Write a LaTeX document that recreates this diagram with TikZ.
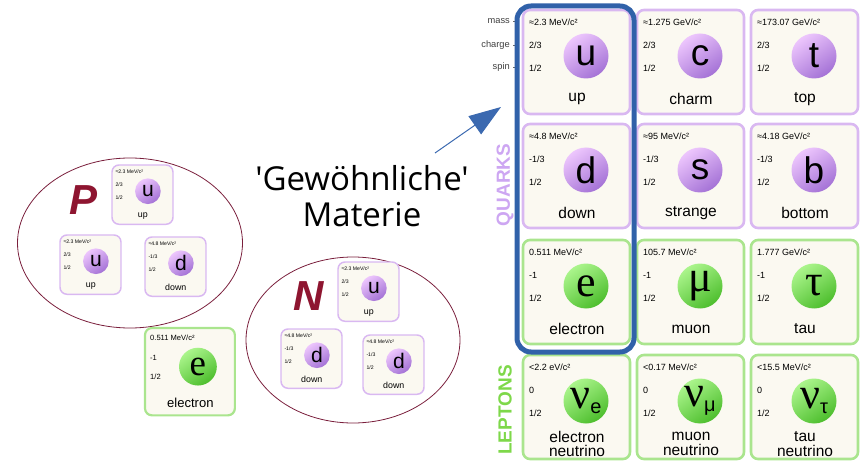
\documentclass[tikz,border=0pt]{standalone}
\usepackage{fontspec}
\setmainfont{Liberation Sans}
\newfontfamily\symfont{Liberation Serif}
\newfontfamily\handfont{Open Sans}
\usetikzlibrary{arrows.meta,shapes.geometric}

\definecolor{quarkline}{HTML}{D9B8F1}
\definecolor{leptonline}{HTML}{AAE58E}
\definecolor{quarktop}{HTML}{EDC6FD}
\definecolor{quarkbot}{HTML}{A472D6}
\definecolor{leptontop}{HTML}{ABF58C}
\definecolor{leptonbot}{HTML}{4DBE2D}
\definecolor{cardfill}{HTML}{FBF9F1}
\definecolor{genblue}{HTML}{3061A9}
\definecolor{arrowblue}{HTML}{3B69B0}
\definecolor{hadron}{HTML}{7A1F3C}
\definecolor{hadronletter}{HTML}{8E1530}
\definecolor{quarklabel}{HTML}{CDA6F2}
\definecolor{leptonlabel}{HTML}{7ED84A}

\tikzset{
  quarkcard/.style={draw=quarkline, fill=cardfill, rounded corners=7pt},
  leptoncard/.style={draw=leptonline, fill=cardfill, rounded corners=7pt},
  quarkball/.style={circle, minimum size=45pt, inner sep=0pt, top color=quarktop, bottom color=quarkbot, shading angle=35, font=\fontsize{37}{37}\selectfont},
  leptonball/.style={circle, minimum size=45pt, inner sep=0pt, top color=leptontop, bottom color=leptonbot, shading angle=35, font=\fontsize{44}{44}\selectfont\symfont},
  propnode/.style={anchor=west, inner sep=0pt, font=\fontsize{9}{9}\selectfont},
  namenode/.style={inner sep=0pt, align=center, font=\fontsize{15.5}{14.5}\selectfont},
  rowlabel/.style={anchor=east, inner sep=0pt, text=black!75, font=\fontsize{9.3}{9.3}\selectfont},
  hadronbox/.style={draw=hadron, line width=0.8pt, ellipse, inner sep=0pt},
  hadronname/.style={text=hadronletter, font=\bfseries\itshape\fontsize{42}{42}\selectfont},
}

% #1 name, #2 top left, #3 scale, #4 quark/lepton, #5 mass, #6 charge, #7 spin, #8 symbol, #9 name
\newcommand{\particle}[9]{%
  \begin{scope}[shift={#2}, scale=#3, transform shape]
    \draw[#4card, line width=#3*2.6pt] (0,0) rectangle (107,104);
    \node[propnode] (#1-mass) at (6,12) {#5};
    \node[propnode] (#1-charge) at (6,35) {#6};
    \node[propnode] (#1-spin) at (6,58) {#7};
    \node[#4ball] (#1-ball) at (63,46) {#8};
    \node[namenode] (#1-name) at (54,89) {#9};
  \end{scope}}

\newcommand{\nusym}[1]{ν\raisebox{-5pt}{\rmfamily\fontsize{20}{20}\selectfont #1}}

\begin{document}
\begin{tikzpicture}[x=1pt, y=-1pt]
\useasboundingbox (0,0) rectangle (861,462);

% proton and neutron
\node[hadronbox, minimum width=225pt, minimum height=170pt] (proton) at (130,243) {};
\node[hadronbox, minimum width=214pt, minimum height=166pt] (neutron) at (353,340) {};
\node[hadronname] (p-label) at (84,200) {P};
\node[hadronname] (n-label) at (309,296) {N};

\particle{pu1}{(112,165)}{0.57}{quark}{≈2.3 MeV/c²}{2/3}{1/2}{u}{up}
\particle{pu2}{(60,235)}{0.57}{quark}{≈2.3 MeV/c²}{2/3}{1/2}{u}{up}
\particle{pd1}{(145,237)}{0.57}{quark}{≈4.8 MeV/c²}{-1/3}{1/2}{d}{down}
\particle{nu1}{(338,262)}{0.57}{quark}{≈2.3 MeV/c²}{2/3}{1/2}{u}{up}
\particle{nd1}{(281,329)}{0.57}{quark}{≈4.8 MeV/c²}{-1/3}{1/2}{d}{down}
\particle{nd2}{(363,335)}{0.57}{quark}{≈4.8 MeV/c²}{-1/3}{1/2}{d}{down}
\particle{el}{(145,328)}{0.84}{lepton}{0.511 MeV/c²}{-1}{1/2}{e}{electron}

% title and arrow
\node[font=\handfont\fontsize{33}{36}\selectfont, align=center] (title) at (362,196) {'Gewöhnliche'\\Materie};
\coordinate (arrow-from) at (435,153);
\coordinate (arrow-to) at (501,107);
\draw[arrowblue, line width=1pt, -{Triangle[length=32pt,width=22pt]}] (arrow-from) -- (arrow-to);

% standard model table
\node[rowlabel] (lbl-mass) at (510,21) {mass};
\node[rowlabel] (lbl-charge) at (510,45) {charge};
\node[rowlabel] (lbl-spin) at (510,67) {spin};
\foreach \l in {mass,charge,spin}
  \draw[black!60, line width=0.6pt] (lbl-\l.east) ++(3,0) -- ++(4,0);

\node[rotate=90, text=quarklabel, font=\bfseries\fontsize{19}{19}\selectfont] (quarks) at (505,185) {QUARKS};
\node[rotate=90, text=leptonlabel, font=\bfseries\fontsize{19}{19}\selectfont] (leptons) at (505,410) {LEPTONS};

\particle{u}{(523,10)}{1}{quark}{≈2.3 MeV/c²}{2/3}{1/2}{u}{up}
\particle{c}{(637,10)}{1}{quark}{≈1.275 GeV/c²}{2/3}{1/2}{c}{charm}
\particle{t}{(751,10)}{1}{quark}{≈173.07 GeV/c²}{2/3}{1/2}{t}{top}
\particle{d}{(523,124)}{1}{quark}{≈4.8 MeV/c²}{-1/3}{1/2}{d}{down}
\particle{s}{(637,124)}{1}{quark}{≈95 MeV/c²}{-1/3}{1/2}{s}{strange}
\particle{b}{(751,124)}{1}{quark}{≈4.18 GeV/c²}{-1/3}{1/2}{b}{bottom}
\particle{e}{(523,240)}{1}{lepton}{0.511 MeV/c²}{-1}{1/2}{e}{electron}
\particle{mu}{(637,240)}{1}{lepton}{105.7 MeV/c²}{-1}{1/2}{μ}{muon}
\particle{tau}{(751,240)}{1}{lepton}{1.777 GeV/c²}{-1}{1/2}{τ}{tau}
\particle{nue}{(523,355)}{1}{lepton}{<2.2 eV/c²}{0}{1/2}{\nusym{e}}{electron\\neutrino}
\particle{numu}{(637,355)}{1}{lepton}{<0.17 MeV/c²}{0}{1/2}{\nusym{μ}}{muon\\neutrino}
\particle{nutau}{(751,355)}{1}{lepton}{<15.5 MeV/c²}{0}{1/2}{\nusym{τ}}{tau\\neutrino}

% first generation frame
\draw[genblue, line width=5pt, rounded corners=14pt] (517,6) rectangle (634,352);
\end{tikzpicture}
\end{document}
